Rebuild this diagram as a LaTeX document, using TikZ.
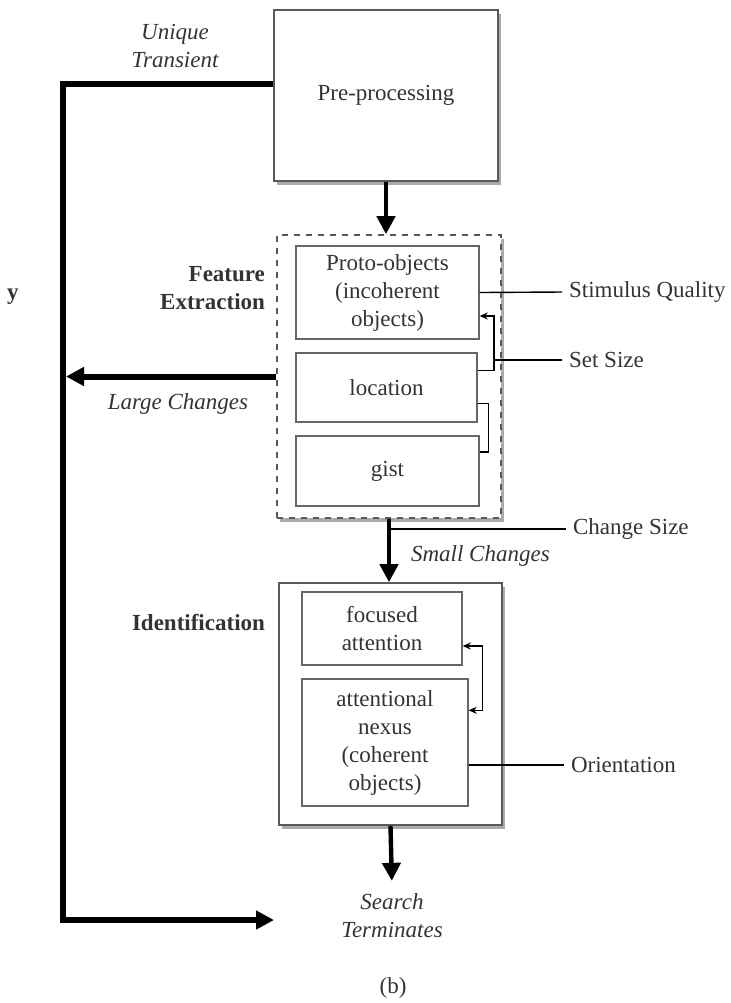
\documentclass[tikz,border=0pt]{standalone}
\usepackage{fontspec}
\setmainfont{Liberation Serif}
\usetikzlibrary{arrows.meta,shadows}
\newcommand\figfont{\fontsize{11.5}{14}\selectfont}

\begin{document}
\begin{tikzpicture}[>={Triangle[length=9pt,width=9pt]},x=.5pt,y=-.5pt,font=\figfont,
  box/.style={draw=black!65,fill=white,line width=.8pt,align=center,inner sep=2pt,text=black!80,
    drop shadow={shadow xshift=1.5pt,shadow yshift=-2.2pt,opacity=.6,fill=black!55}},
  inbox/.style={draw=black!60,fill=white,line width=.7pt,align=center,inner sep=2pt,text=black!80},
  bigline/.style={line width=3pt},
  midarrow/.style={line width=2.2pt,->},
  hairline/.style={line width=.7pt},
  smalltip/.style={-{Stealth[length=4pt,width=3.5pt]}},
  lbl/.style={text=black!80,align=center},
  lblit/.style={lbl,font=\figfont\itshape},
  lblbf/.style={lbl,font=\figfont\bfseries}]
\useasboundingbox (0,0) rectangle (731,1003);
% stages
\node[box,minimum width=112pt,minimum height=85.5pt] (pre) at (386,95.5) {Pre-processing};
\node[box,dashed,minimum width=112pt,minimum height=141.5pt] (feat) at (389,376.5) {};
\node[inbox,minimum width=91.5pt,minimum height=46.5pt] (proto) at (387.5,292.5) {Proto-objects\\(incoherent\\objects)};
\node[inbox,minimum width=90.5pt,minimum height=34.5pt] (loc) at (386.5,387.5) {location};
\node[inbox,minimum width=91.5pt,minimum height=35pt] (gist) at (387.5,471) {gist};
\node[box,minimum width=111.5pt,minimum height=121pt] (ident) at (390.5,704) {};
\node[inbox,minimum width=80pt,minimum height=36.5pt] (focus) at (382,628.5) {focused\\attention};
\node[inbox,minimum width=83pt,minimum height=63.5pt] (nexus) at (385,742.5) {attentional\\nexus\\(coherent\\objects)};
% labels
\node[lblit] (ut) at (175,46) {Unique\\Transient};
\node[lblbf,align=right,anchor=east] (fe) at (272,288) {Feature\\Extraction};
\node[lblbf,anchor=east] (idl) at (272,623) {Identification};
\node[lblit] (lc) at (178,404) {Large Changes};
\node[lblit,anchor=west] (sc) at (404,556) {Small Changes};
\node[lblit] (st) at (392,916) {Search\\Terminates};
\node[lbl] (cap) at (393,988) {(b)};
\node[lblbf] (frag) at (13,297) {y};
\node[lbl,anchor=west] (sq) at (562,292) {Stimulus Quality};
\node[lbl,anchor=west] (ss) at (562,360) {Set Size};
\node[lbl,anchor=west] (cs) at (566,529) {Change Size};
\node[lbl,anchor=west] (ori) at (564,765) {Orientation};
% main flow
\coordinate (corner) at (63,84);
\coordinate (stop) at (274,920);
\draw[bigline,->] (pre.west |- corner) -- (corner) -- (corner |- stop) -- (stop);
\draw[bigline,->,shorten >=1.5pt] (feat.west) -- (corner |- feat.west);
\draw[midarrow] (pre.south) -- (pre.south |- feat.north);
\draw[midarrow] (feat.south) -- (feat.south |- ident.north);
\draw[midarrow,shorten >=3pt] (ident.south) -- (st.north);
% factors
\coordinate (b1) at (494,316);
\draw[hairline] (proto.east) -- (sq.west);
\draw[hairline,smalltip] ([yshift=-9pt]loc.north east) -| (b1) -- (proto.east |- b1);
\draw[hairline] (b1 |- ss) -- (ss.west);
\draw[hairline] ([yshift=-8pt]loc.east) -- ++(5.5pt,0) |- ([yshift=9.5pt]gist.east);
\draw[hairline] (feat.south |- cs) -- (cs.west);
\draw[hairline,{Stealth[length=4pt,width=3.5pt]}-{Stealth[length=4pt,width=3.5pt]}]
  ([yshift=-8.75pt]focus.east) -- ++(10pt,0) |- ([yshift=-16pt]nexus.north east);
\draw[hairline] (nexus.east |- ori) -- (ori.west);
\end{tikzpicture}
\end{document}
